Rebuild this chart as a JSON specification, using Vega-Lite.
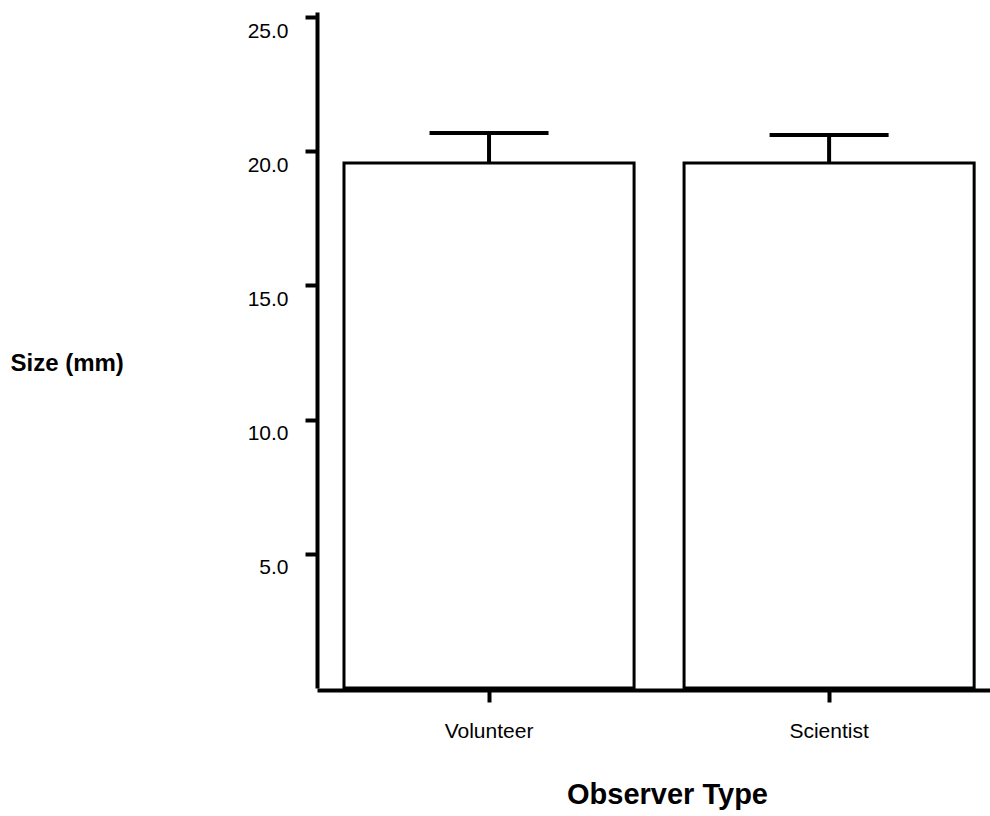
{
  "$schema": "https://vega.github.io/schema/vega-lite/v6.json",
  "autosize": {"type": "none"},
  "padding": {"left": 317, "top": 12, "right": 0, "bottom": 128},
  "width": 673,
  "height": 676,
  "background": "white",
  "config": {
    "view": {"stroke": null},
    "font": "Liberation Sans"
  },
  "data": {
    "values": [
      {"observer": "Volunteer", "size": 19.56, "upper": 20.68},
      {"observer": "Scientist", "size": 19.56, "upper": 20.61}
    ]
  },
  "encoding": {
    "x": {
      "field": "observer",
      "type": "nominal",
      "sort": null,
      "scale": {"paddingInner": 0.147, "paddingOuter": 0.063, "align": 0.63},
      "axis": {
        "title": "Observer Type",
        "titleFont": "Liberation Sans",
        "titleFontSize": 29,
        "titleFontWeight": "bold",
        "titleColor": "black",
        "titleX": 350,
        "titleY": 104,
        "titleAlign": "center",
        "titleBaseline": "middle",
        "offset": 2,
        "labelAngle": 0,
        "labelFontSize": 21,
        "labelColor": "black",
        "labelPadding": 18,
        "domainColor": "black",
        "domainWidth": 4,
        "tickColor": "black",
        "tickWidth": 4,
        "tickSize": 12
      }
    }
  },
  "layer": [
    {
      "mark": {"type": "bar", "fill": "white", "stroke": "black", "strokeWidth": 3},
      "encoding": {
        "y": {
          "field": "size",
          "type": "quantitative",
          "scale": {"domain": [0, 25.19], "nice": false},
          "axis": {
            "title": "Size (mm)",
            "titleFontSize": 24,
            "titleFontWeight": "bold",
            "titleColor": "black",
            "titleAngle": 0,
            "titleAlign": "left",
            "titleBaseline": "middle",
            "titleX": -307,
            "titleY": 351,
            "values": [5, 10, 15, 20, 25],
            "format": ".1f",
            "labelFontSize": 21,
            "labelColor": "black",
            "labelPadding": 17,
            "labelOffset": 14,
            "labelBaseline": "middle",
            "grid": false,
            "domainColor": "black",
            "domainWidth": 4,
            "tickColor": "black",
            "tickWidth": 4,
            "tickSize": 12
          }
        }
      }
    },
    {
      "mark": {"type": "rule", "color": "black", "strokeWidth": 4},
      "encoding": {
        "y": {"field": "size", "type": "quantitative"},
        "y2": {"field": "upper"}
      }
    },
    {
      "mark": {"type": "tick", "color": "black", "size": 119, "thickness": 4, "orient": "horizontal", "opacity": 1},
      "encoding": {
        "y": {"field": "upper", "type": "quantitative"}
      }
    }
  ]
}
